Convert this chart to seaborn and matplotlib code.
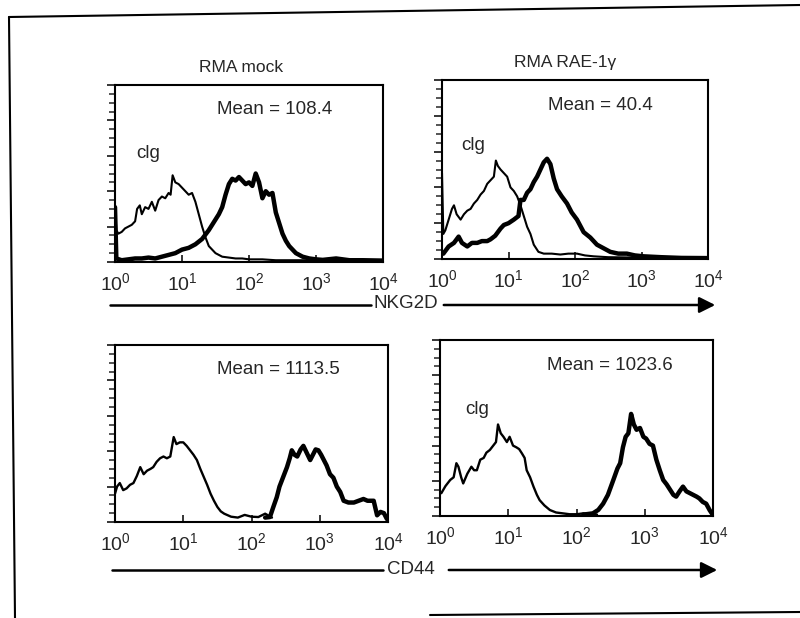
import numpy as np
import pandas as pd
import matplotlib
matplotlib.use("Agg")
import matplotlib.pyplot as plt
import seaborn as sns
from matplotlib.lines import Line2D
from matplotlib.patches import FancyArrowPatch
from matplotlib.ticker import MultipleLocator, LogLocator, NullFormatter

# positions are read as log10 of fluorescence, values as % of panel height
tl_clg_pos = [0, 0.02, 0.05, 0.1, 0.15, 0.2, 0.25, 0.3, 0.33, 0.37, 0.4, 0.45, 0.5, 0.55, 0.6, 0.65,
              0.7, 0.75, 0.8, 0.83, 0.86, 0.9, 0.95, 1.0, 1.05, 1.1, 1.15, 1.2, 1.25, 1.3, 1.35, 1.4,
              1.5, 1.6, 1.7, 1.8, 1.9, 2.0, 2.2, 2.4, 2.6, 2.8, 3.0, 3.5, 4.0]
tl_clg_val = [31, 18, 16, 17, 19, 20, 21, 23, 30, 32, 27, 31, 30, 34, 29, 35,
              37, 36, 39, 38, 49, 45, 44, 42, 40, 38, 39, 34, 27, 20, 14, 9,
              5, 3, 2.5, 2, 2, 1.5, 1.5, 1, 1, 1, 0.8, 0.5, 0.5]
tl_nk_pos = [0, 0.02, 0.1, 0.2, 0.3, 0.4, 0.5, 0.6, 0.7, 0.8, 0.9, 1.0, 1.1, 1.2, 1.3, 1.4, 1.5,
             1.55, 1.6, 1.65, 1.7, 1.75, 1.8, 1.85, 1.9, 1.95, 2.0, 2.05, 2.1, 2.15, 2.2, 2.25,
             2.3, 2.35, 2.4, 2.45, 2.5, 2.55, 2.6, 2.7, 2.8, 2.9, 3.0, 3.1, 3.3, 3.5, 3.7, 4.0]
tl_nk_val = [31, 2, 1, 1.5, 2, 2, 2.5, 2, 3, 4, 5, 7, 8, 10, 13, 18, 24,
             27, 31, 38, 44, 47, 46, 48, 46, 44, 45, 43, 50, 45, 36, 40,
             38, 39, 28, 22, 16, 12, 9, 5, 3, 2, 1.5, 1.2, 2, 1, 1, 0.8]

tr_clg_pos = [0, 0.02, 0.05, 0.1, 0.15, 0.18, 0.22, 0.28, 0.33, 0.38, 0.43, 0.48, 0.53, 0.58, 0.63,
              0.68, 0.73, 0.78, 0.81, 0.84, 0.88, 0.93, 0.98, 1.03, 1.08, 1.13, 1.18, 1.23, 1.28,
              1.33, 1.38, 1.45, 1.53, 1.65, 1.78, 1.9, 2.03, 2.15, 2.28, 2.5, 3.0, 3.5, 4.0]
tr_clg_val = [48, 14, 16, 22, 28, 30, 25, 22, 25, 27, 28, 31, 33, 36, 38,
              42, 44, 46, 55, 52, 50, 48, 46, 40, 38, 35, 30, 24, 18,
              14, 8, 4, 3, 3, 2.5, 3, 3, 2, 1.5, 1, 0.8, 0.5, 0.5]
tr_nk_pos = [0, 0.02, 0.1, 0.18, 0.25, 0.3, 0.38, 0.45, 0.53, 0.6, 0.68, 0.73, 0.8, 0.88, 0.93,
             1.0, 1.08, 1.15, 1.18, 1.23, 1.28, 1.33, 1.38, 1.43, 1.48, 1.53, 1.58, 1.63, 1.68,
             1.73, 1.8, 1.88, 1.95, 2.03, 2.13, 2.23, 2.33, 2.43, 2.53, 2.65, 2.78, 2.9, 3.03,
             3.3, 3.6, 4.0]
tr_nk_val = [3, 3, 7, 9, 12.5, 9, 7, 9, 9, 10, 10, 11, 13, 17, 19,
             20, 22, 24, 33, 33, 37, 39, 43, 46, 50, 54, 56, 53, 45,
             39, 35, 31, 26, 22, 15, 12, 8, 6, 4, 3, 3, 2, 1.5,
             1, 0.6, 0.5]

bl_clg_pos = [0, 0.03, 0.07, 0.12, 0.17, 0.22, 0.27, 0.32, 0.37, 0.42, 0.47, 0.52, 0.56, 0.61, 0.66,
              0.71, 0.76, 0.81, 0.86, 0.9, 0.95, 1.0, 1.05, 1.1, 1.15, 1.2, 1.25, 1.3, 1.35, 1.4,
              1.45, 1.5, 1.55, 1.6, 1.7, 1.8, 1.9, 2.0, 2.1, 2.2, 2.3]
bl_clg_val = [16, 20, 22, 18, 19, 21, 22, 26, 31, 27, 29, 30, 31, 34, 36,
              37, 36, 37, 48, 44, 45, 45, 43, 40.5, 38, 35, 30, 25.5, 21, 16,
              12, 8.5, 6, 4.7, 3, 2.5, 4, 3, 2.8, 4.7, 2.5]
bl_cd_pos = [2.2, 2.27, 2.32, 2.37, 2.41, 2.46, 2.52, 2.56, 2.59, 2.63, 2.67, 2.72, 2.76, 2.81,
             2.86, 2.9, 2.94, 2.98, 3.02, 3.06, 3.1, 3.15, 3.2, 3.25, 3.3, 3.35, 3.42, 3.5, 3.57,
             3.64, 3.7, 3.75, 3.79, 3.84, 3.89, 3.94, 3.98, 4.0]
bl_cd_val = [2.5, 2.8, 8.5, 14, 20, 25, 31, 36, 40.5, 38, 37, 41, 43, 39,
             35, 38, 41, 40.5, 38, 35, 32, 27, 25, 20, 17, 12, 11, 11, 12,
             13, 12, 12, 12, 3.8, 5.7, 5, 2, 1]

br_clg_pos = [0, 0.02, 0.08, 0.15, 0.2, 0.24, 0.27, 0.31, 0.34, 0.4, 0.46, 0.5, 0.54, 0.59, 0.64,
              0.68, 0.73, 0.78, 0.82, 0.85, 0.89, 0.93, 0.98, 1.02, 1.07, 1.12, 1.16, 1.2, 1.24,
              1.27, 1.32, 1.37, 1.42, 1.46, 1.53, 1.61, 1.7, 1.8, 1.9, 2.0, 2.1, 2.2, 2.3]
br_clg_val = [13, 13, 17, 20.5, 22, 30, 28, 22, 18.5, 24, 28, 26, 26, 32, 33,
              36, 37.5, 40, 42, 52, 47, 45, 42, 45, 40, 39, 38, 35.6, 33,
              26, 22, 16.7, 12, 9, 6, 3.4, 2, 1.5, 1, 1, 1.5, 1, 0.8]
br_cd_pos = [2.1, 2.24, 2.32, 2.39, 2.46, 2.54, 2.6, 2.64, 2.68, 2.72, 2.76, 2.8, 2.84, 2.88,
             2.93, 2.98, 3.02, 3.07, 3.12, 3.17, 3.22, 3.27, 3.32, 3.37, 3.42, 3.46, 3.51, 3.56,
             3.61, 3.66, 3.71, 3.76, 3.8, 3.85, 3.9, 3.95, 4.0]
br_cd_val = [0.8, 1.5, 3.5, 7, 12, 20.5, 27, 30, 39, 45, 47, 58, 52, 49,
             50, 45, 44, 41, 40, 32, 26, 20.5, 18, 15, 12, 11, 14, 16.7,
             14, 13, 12, 11, 10, 8, 7, 3.4, 0.5]

titles = ["RMA mock", "RMA RAE-1γ"]
means = ["Mean = 108.4", "Mean = 40.4", "Mean = 1113.5", "Mean = 1023.6"]
tick_labels = [r"$\mathregular{10^{%d}}$" % k for k in range(5)]

sns.set_style("ticks")
plt.rcParams["font.family"] = ["Liberation Sans", "DejaVu Sans"]
plt.rcParams["mathtext.fontset"] = "custom"
plt.rcParams["mathtext.rm"] = "Liberation Sans"

W, H = 800, 618
fig = plt.figure(figsize=(8, 6.18), dpi=100)


def px_axes(x0, y0, x1, y1):
    # pixel box (top-left origin) -> axes
    return fig.add_axes([x0 / W, 1 - y1 / H, (x1 - x0) / W, (y1 - y0) / H])


def ftext(x, y, s, **kw):
    fig.text(x / W, 1 - y / H, s, ha="center", va="center", **kw)


def draw_panel(ax, curves):
    for pos, val, lw in curves:
        df = pd.DataFrame({"x": np.power(10.0, pos), "y": val})
        sns.lineplot(data=df, x="x", y="y", ax=ax, color="black", linewidth=lw,
                     estimator=None, sort=False)
    ax.set_xscale("log")
    ax.set_xlim(1, 1e4)
    ax.set_ylim(0, 100)
    ax.set_xticks([1, 10, 100, 1000, 10000])
    ax.set_xticklabels(tick_labels)
    ax.xaxis.set_minor_locator(LogLocator(base=10, subs=np.arange(2, 10)))
    ax.xaxis.set_minor_formatter(NullFormatter())
    ax.yaxis.set_major_locator(MultipleLocator(20))
    ax.yaxis.set_minor_locator(MultipleLocator(5))
    ax.set_yticklabels([])
    ax.set_xlabel("")
    ax.set_ylabel("")
    ax.tick_params(axis="x", which="major", direction="in", length=5, width=1.3,
                   labelsize=14, pad=7)
    ax.tick_params(axis="x", which="minor", direction="in", length=3, width=1.1)
    ax.tick_params(axis="y", which="major", direction="out", length=6, width=1.3)
    ax.tick_params(axis="y", which="minor", direction="out", length=4, width=1.1)
    for s in ax.spines.values():
        s.set_linewidth(1.5)
        s.set_color("black")


ax1 = px_axes(115, 85, 383, 262)
draw_panel(ax1, [(tl_clg_pos, tl_clg_val, 1.5), (tl_nk_pos, tl_nk_val, 3.2)])
ax2 = px_axes(442, 80, 708, 259)
draw_panel(ax2, [(tr_clg_pos, tr_clg_val, 1.5), (tr_nk_pos, tr_nk_val, 3.2)])
ax3 = px_axes(115, 345, 388, 522)
draw_panel(ax3, [(bl_clg_pos, bl_clg_val, 1.7), (bl_cd_pos, bl_cd_val, 3.2)])
ax4 = px_axes(440, 340, 713, 516)
draw_panel(ax4, [(br_clg_pos, br_clg_val, 1.7), (br_cd_pos, br_cd_val, 3.2)])

# titles and labels
ftext(241, 67, titles[0], fontsize=12.5)
ftext(565, 62, titles[1], fontsize=12.5)
ftext(275, 110, means[0], fontsize=13.5)
ftext(600, 105, means[1], fontsize=13.5)
ftext(278, 370, means[2], fontsize=13.5)
ftext(610, 365, means[3], fontsize=13.5)
ftext(148, 153, "clg", fontsize=13.5)
ftext(473, 145, "clg", fontsize=13.5)
ftext(477, 410, "clg", fontsize=13.5)

# axis arrows
ftext(406, 304, "NKG2D", fontsize=13.5)
fig.add_artist(Line2D([110 / W, 371 / W], [1 - 305 / H, 1 - 305 / H], color="black", lw=1.8))
fig.add_artist(FancyArrowPatch((441 / W, 1 - 305 / H), (718 / W, 1 - 305 / H),
                               transform=fig.transFigure, arrowstyle="-|>",
                               mutation_scale=24, color="black", lw=1.8))
ftext(411, 569, "CD44", fontsize=13.5)
fig.add_artist(Line2D([112 / W, 383 / W], [1 - 570 / H, 1 - 570 / H], color="black", lw=1.8))
fig.add_artist(FancyArrowPatch((446 / W, 1 - 570 / H), (720 / W, 1 - 570 / H),
                               transform=fig.transFigure, arrowstyle="-|>",
                               mutation_scale=24, color="black", lw=1.8))

# scanned page frame
fig.add_artist(Line2D([9 / W, 800 / W], [1 - 17 / H, 1 - 5 / H], color="black", lw=1.5))
fig.add_artist(Line2D([9 / W, 15 / W], [1 - 17 / H, 0], color="black", lw=1.5))
fig.add_artist(Line2D([430 / W, 800 / W], [1 - 615 / H, 1 - 612 / H], color="black", lw=1.5))

fig.savefig("out.png", dpi=100)
